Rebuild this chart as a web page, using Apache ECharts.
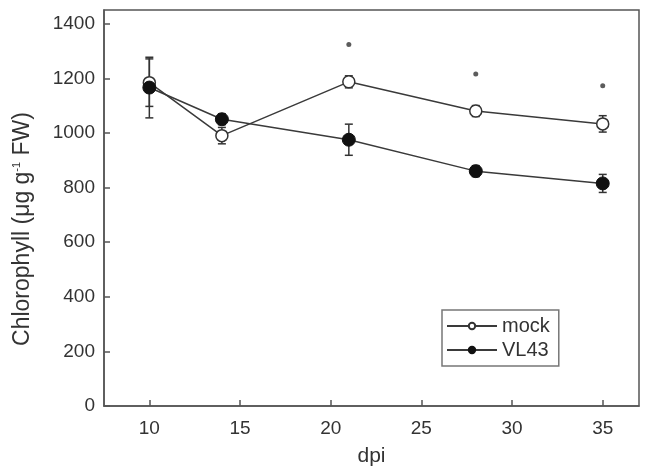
<!DOCTYPE html>
<html>
<head>
<meta charset="utf-8">
<script src="https://cdn.jsdelivr.net/npm/echarts@6/dist/echarts.min.js"></script>
<style>
  html, body { margin: 0; padding: 0; background: #fff; }
  #chart { width: 645px; height: 472px; }
</style>
</head>
<body>
<div id="chart"></div>
<script>
// data
const dpi = [10, 14, 21, 28, 35]
const mock = [1184, 990, 1187, 1080, 1033]
const mockErr = [87, 30, 22, 20, 30]
const vl43 = [1166, 1050, 975, 860, 815]
const vl43Err = [111, 20, 57, 20, 33]
const starDpi = [21, 28, 35]
const starVal = [1324, 1216, 1173]
const xTicks = [10, 15, 20, 25, 30, 35]
const yTicks = [0, 200, 400, 600, 800, 1000, 1200, 1400]

const ink = '#333'
const font = 'Liberation Sans, Arial, sans-serif'

function pairs(xs, ys) {
  return xs.map((x, i) => [x, ys[i]])
}

function errData(xs, ys, es) {
  return xs.map((x, i) => [x, ys[i] - es[i], ys[i] + es[i]])
}

function renderErr(params, api) {
  const lo = api.coord([api.value(0), api.value(1)])
  const hi = api.coord([api.value(0), api.value(2)])
  const w = 4
  const style = { stroke: ink, lineWidth: 1.5 }
  return {
    type: 'group',
    children: [
      { type: 'line', shape: { x1: lo[0], y1: lo[1], x2: hi[0], y2: hi[1] }, style },
      { type: 'line', shape: { x1: lo[0] - w, y1: lo[1], x2: lo[0] + w, y2: lo[1] }, style },
      { type: 'line', shape: { x1: hi[0] - w, y1: hi[1], x2: hi[0] + w, y2: hi[1] }, style }
    ]
  }
}

const chart = echarts.init(document.getElementById('chart'), null, { renderer: 'canvas' })

chart.setOption({
  animation: false,
  backgroundColor: '#fff',
  textStyle: { fontFamily: font },
  grid: {
    left: 104,
    right: 6,
    top: 10,
    bottom: 60,
    show: true,
    borderColor: '#555',
    borderWidth: 1.5
  },
  legend: {
    data: ['mock', 'VL43'],
    orient: 'vertical',
    left: 442,
    top: 310,
    padding: [6, 9, 6, 4],
    itemGap: 4,
    itemWidth: 50,
    itemHeight: 8,
    borderColor: '#777',
    borderWidth: 1.5,
    textStyle: { fontFamily: font, fontSize: 20, color: ink, padding: [0, 0, 0, 0] }
  },
  xAxis: {
    type: 'value',
    min: 7.5,
    max: 37,
    name: 'dpi',
    nameLocation: 'middle',
    nameGap: 40,
    nameTextStyle: { fontFamily: font, fontSize: 21, color: ink },
    splitLine: { show: false },
    axisLine: { lineStyle: { color: '#555', width: 1.5 } },
    axisTick: { inside: true, length: 6, customValues: xTicks, lineStyle: { color: '#555', width: 1.5 } },
    axisLabel: { customValues: xTicks, margin: 13, fontSize: 19, color: ink, fontFamily: font }
  },
  yAxis: {
    type: 'value',
    min: 0,
    max: 1450,
    name: 'Chlorophyll (μg g{sup|-1} FW)',
    nameLocation: 'middle',
    nameRotate: 90,
    nameGap: 70,
    nameTextStyle: {
      fontFamily: font,
      fontSize: 23,
      color: ink,
      padding: [0, 42, 0, 0],
      rich: { sup: { fontSize: 11, verticalAlign: 'top', color: ink, padding: [0, 0, 10, 0] } }
    },
    splitLine: { show: false },
    axisLine: { lineStyle: { color: '#555', width: 1.5 } },
    axisTick: { inside: true, length: 6, customValues: yTicks, lineStyle: { color: '#555', width: 1.5 } },
    axisLabel: {
      customValues: yTicks,
      margin: 9,
      fontSize: 19,
      color: ink,
      fontFamily: font,
      formatter: v => String(v)
    }
  },
  series: [
    {
      name: 'mockErr',
      type: 'custom',
      renderItem: renderErr,
      data: errData(dpi, mock, mockErr),
      z: 1
    },
    {
      name: 'vl43Err',
      type: 'custom',
      renderItem: renderErr,
      data: errData(dpi, vl43, vl43Err),
      z: 1
    },
    {
      name: 'mock',
      type: 'line',
      data: pairs(dpi, mock),
      symbol: 'circle',
      symbolSize: 12,
      showAllSymbol: true,
      lineStyle: { color: '#3a3a3a', width: 1.5 },
      itemStyle: { color: '#fff', borderColor: ink, borderWidth: 1.5 },
      z: 2
    },
    {
      name: 'VL43',
      type: 'line',
      data: pairs(dpi, vl43),
      symbol: 'circle',
      symbolSize: 13,
      showAllSymbol: true,
      lineStyle: { color: '#3a3a3a', width: 1.5 },
      itemStyle: { color: '#111', borderColor: '#111', borderWidth: 1 },
      z: 3
    },
    {
      name: 'star',
      type: 'scatter',
      data: pairs(starDpi, starVal),
      symbol: 'circle',
      symbolSize: 5,
      itemStyle: { color: '#333' },
      z: 3
    }
  ]
})
</script>
</body>
</html>
